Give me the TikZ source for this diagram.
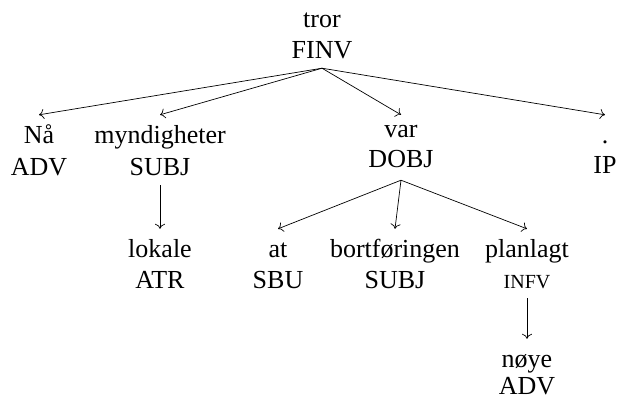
\documentclass[tikz,border=0pt]{standalone}
\usepackage{fontspec}
\setmainfont{Liberation Serif}
\usetikzlibrary{arrows.meta}
\begin{document}
\begin{tikzpicture}[x=1pt,y=-1pt,
  wordbox/.style={font=\fontsize{26}{31}\selectfont, anchor=base, inner xsep=0pt, inner ysep=11pt, text height=17pt, text depth=0pt},
  labelbox/.style={font=\fontsize{26}{31}\selectfont, anchor=base, inner xsep=0pt, inner ysep=10pt, text height=17pt, text depth=0pt},
  dep/.style={draw, line width=0.7pt, -{To[length=5pt,width=10pt]}}]
\useasboundingbox (0,0) rectangle (619,400);
% level 0
\node[wordbox] (w0) at (322,27) {tror};
\node[labelbox] (l0) at (322,58) {FINV};
% level 1
\node[wordbox] (w1) at (39,143) {Nå};
\node[labelbox] (l1) at (39,175) {ADV};
\node[wordbox] (w2) at (160,143) {myndigheter};
\node[labelbox] (l2) at (160,175) {SUBJ};
\node[wordbox, text height=11pt] (w3) at (401,137) {var};
\node[labelbox, text depth=3pt] (l3) at (401,167) {DOBJ};
\node[wordbox] (w4) at (605,143) {.};
\node[labelbox] (l4) at (605,173) {IP};
% level 2
\node[wordbox] (w5) at (160,257) {lokale};
\node[labelbox] (l5) at (160,288) {ATR};
\node[wordbox] (w6) at (278,257) {at};
\node[labelbox] (l6) at (278,288) {SBU};
\node[wordbox] (w7) at (395,257) {bortføringen};
\node[labelbox] (l7) at (395,288) {SUBJ};
\node[wordbox] (w8) at (527,257) {planlagt};
\node[labelbox, font=\fontsize{20}{24}\selectfont] (l8) at (527,288) {INFV};
% level 3
\node[wordbox] (w9) at (527,367) {nøye};
\node[labelbox, inner ysep=1pt] (l9) at (527,394) {ADV};
% dependencies
\draw[dep] (l0.south) -- (w1.north);
\draw[dep] (l0.south) -- (w2.north);
\draw[dep] (l0.south) -- (w3.north);
\draw[dep] (l0.south) -- (w4.north);
\draw[dep] (l2.south) -- (w5.north);
\draw[dep] (l3.south) -- (w6.north);
\draw[dep] (l3.south) -- (w7.north);
\draw[dep] (l3.south) -- (w8.north);
\draw[dep] (l8.south) -- (w9.north);
\end{tikzpicture}
\end{document}
